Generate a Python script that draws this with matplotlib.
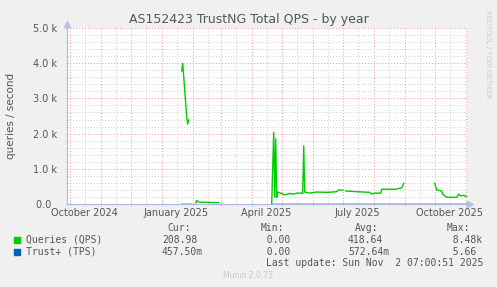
import numpy as np
import matplotlib
matplotlib.use("Agg")
import matplotlib.pyplot as plt
import matplotlib.dates as mdates
from matplotlib.patches import Rectangle
from matplotlib.ticker import MultipleLocator, FuncFormatter
import datetime as dt

# -----------------------------------------------------------------------
# Data
# -----------------------------------------------------------------------
qps_dates = [
    "2025-01-21", "2025-01-22", "2025-01-26", "2025-01-27", "2025-01-28", "2025-01-29",
    "2025-02-04", "2025-02-05", "2025-02-07", "2025-02-08", "2025-02-27", "2025-02-28",
    "2025-04-21", "2025-04-23", "2025-04-24", "2025-04-25", "2025-04-26", "2025-04-27",
    "2025-04-30", "2025-05-04", "2025-05-09", "2025-05-12", "2025-05-17", "2025-05-21",
    "2025-05-22", "2025-05-23", "2025-05-24", "2025-05-29", "2025-06-05", "2025-06-15",
    "2025-06-25", "2025-06-27", "2025-07-01", "2025-07-02",
    "2025-07-04", "2025-07-15", "2025-07-28", "2025-07-30", "2025-08-02", "2025-08-08",
    "2025-08-09", "2025-08-23", "2025-08-25", "2025-08-29", "2025-08-31", "2025-09-01",
    "2025-10-01", "2025-10-03", "2025-10-08", "2025-10-09", "2025-10-11", "2025-10-13",
    "2025-10-23", "2025-10-25", "2025-10-27", "2025-10-30", "2025-11-01", "2025-11-02",
]
qps_values = [
    3780, 4000, 2480, 2270, 2390, np.nan,
    30, 100, 60, 50, 40, np.nan,
    20, 2040, 200, 1850, 190, 340,
    310, 260, 300, 280, 310, 310,
    300, 1650, 340, 310, 340, 330,
    350, 400, 390, np.nan,
    370, 350, 330, 280, 310, 310,
    420, 420, 430, 460, 590, np.nan,
    590, 400, 370, 280, 230, 190,
    190, 280, 230, 250, 220, 209,
]

tps_dates = ["2025-01-21", "2025-01-31", "2025-02-01", "2025-04-21", "2025-11-02"]
tps_values = [0.5, 0.6, np.nan, 0.57, 0.46]

x_labels = ["October 2024", "January 2025", "April 2025", "July 2025", "October 2025"]
x_label_months = ["2024-10-01", "2025-01-01", "2025-04-01", "2025-07-01", "2025-10-01"]

legend_names = ["Queries (QPS)", "Trust+ (TPS)"]
legend_colors = ["#00cc00", "#0066b3"]
cur_vals = ["208.98", "457.50m"]
min_vals = ["  0.00", "  0.00"]
avg_vals = ["418.64", "572.64m"]
max_vals = ["  8.48k", "  5.66"]
last_update = "Last update: Sun Nov  2 07:00:51 2025"

end_time = dt.datetime(2025, 11, 2, 7, 0, 51)
start_time = end_time - dt.timedelta(days=400)

# -----------------------------------------------------------------------
# Figure
# -----------------------------------------------------------------------
W, H = 497, 287
BG = "#f0f0f0"
TXT = "#555555"

fig = plt.figure(figsize=(W / 100, H / 100), dpi=100, facecolor=BG)


def px(x, y):
    return x / W, 1 - y / H


L, T, R, B = 67, 28, 467, 204
ax = fig.add_axes([L / W, 1 - B / H, (R - L) / W, (B - T) / H])
ax.set_facecolor("white")

ax.set_xlim(start_time, end_time)
ax.set_ylim(0, 5000)

ax.xaxis.set_major_locator(mdates.MonthLocator())
ax.xaxis.set_minor_locator(mdates.MonthLocator(bymonthday=16))
ax.yaxis.set_major_locator(MultipleLocator(1000))
ax.yaxis.set_minor_locator(MultipleLocator(200))

ax.grid(which="minor", color="#cccccc", linestyle=(0, (1, 2)), linewidth=0.7)
ax.grid(which="major", color="#e89a9a", linestyle=(0, (1, 2)), linewidth=0.7)
ax.set_axisbelow(True)

ax.xaxis.set_major_formatter(FuncFormatter(lambda v, p: ""))
# rrdtool pads the zero label, so it ends left of the others
ax.yaxis.set_major_formatter(
    FuncFormatter(lambda v, p: "0.0  " if v == 0 else f"{v / 1000:.1f} k"))
ax.tick_params(axis="x", which="major", length=2, color="#e07070", direction="inout")
ax.tick_params(axis="x", which="minor", length=2, color="#c0c0c0", direction="inout")
ax.tick_params(axis="y", which="both", length=2, color="#c0c0c0", direction="inout",
               labelsize=7, labelcolor=TXT, pad=6)

for s in ["top", "right"]:
    ax.spines[s].set_visible(False)
for s in ["left", "bottom"]:
    ax.spines[s].set_color("#b0b8e8")
    ax.spines[s].set_linewidth(0.8)

# axis arrows
ax.plot([1.008], [0], marker=">", color="#b8c0f0", markersize=4,
        transform=ax.transAxes, clip_on=False)
ax.plot([0], [1.02], marker="^", color="#b8c0f0", markersize=4,
        transform=ax.transAxes, clip_on=False)

# month labels, centred half a month after the tick like rrdtool does
for lab, m in zip(x_labels, x_label_months):
    d = dt.datetime.fromisoformat(m) + dt.timedelta(days=14.5)
    ax.text(d, -0.05, lab, transform=ax.get_xaxis_transform(),
            ha="center", va="center", fontsize=7, color=TXT)

qd = [dt.datetime.fromisoformat(d) for d in qps_dates]
td = [dt.datetime.fromisoformat(d) for d in tps_dates]
ax.plot(td, tps_values, color=legend_colors[1], linewidth=1, alpha=0.45, zorder=3)
ax.plot(qd, qps_values, color=legend_colors[0], linewidth=1, zorder=4)

# titles
fig.text(*px(249, 19), "AS152423 TrustNG Total QPS - by year", ha="center",
         va="center", fontsize=9, color=TXT)
fig.text(*px(11, 116), "queries / second", rotation=90, ha="center", va="center",
         fontsize=7.5, color=TXT)
fig.text(*px(488, 54), "RRDTOOL / TOBI OETIKER", rotation=270, ha="center",
         va="center", fontsize=5, color="#cccccc")

# legend block
mono = dict(family="DejaVu Sans Mono", fontsize=7, color=TXT, va="center")
fig.text(*px(167, 228), "Cur:", **mono)
fig.text(*px(261, 228), "Min:", **mono)
fig.text(*px(355, 228), "Avg:", **mono)
fig.text(*px(447, 228), "Max:", **mono)
for i, name in enumerate(legend_names):
    y = 240 + 12 * i
    fig.patches.append(Rectangle(px(14, y + 3), 6 / W, 6 / H, color=legend_colors[i],
                                 transform=fig.transFigure, figure=fig))
    fig.text(*px(26, y), name, **mono)
    fig.text(*px(162, y), cur_vals[i], **mono)
    fig.text(*px(255, y), min_vals[i], **mono)
    fig.text(*px(348, y), avg_vals[i], **mono)
    fig.text(*px(441, y), max_vals[i], **mono)
fig.text(*px(483, 263), last_update, ha="right", **mono)
fig.text(*px(248, 276), "Munin 2.0.73", ha="center", va="center", fontsize=5.5,
         color="#c8c8c8")

fig.savefig("out.png", dpi=100, facecolor=BG)
